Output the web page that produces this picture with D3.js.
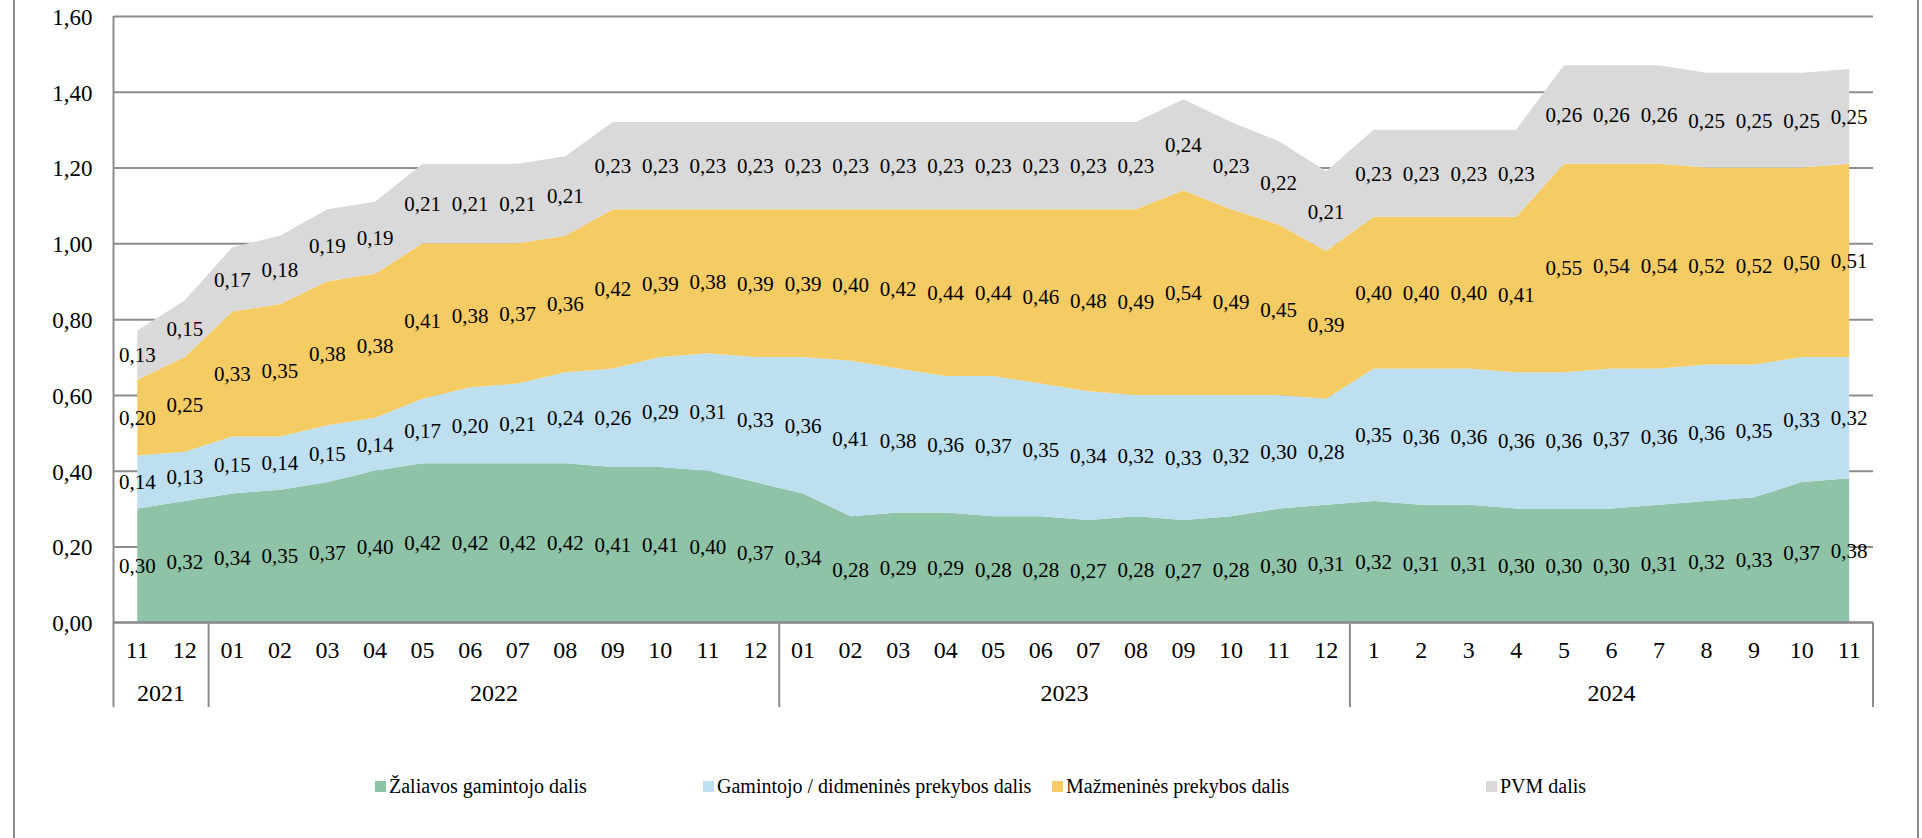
<!DOCTYPE html>
<html>
<head>
<meta charset="utf-8">
<script src="https://cdn.jsdelivr.net/npm/d3@7"></script>
<style>
  body { margin: 0; background: #fff; }
  text { font-family: "Liberation Serif", "Times New Roman", serif; fill: #000; }
</style>
</head>
<body>
<script>
// categories
const years = ["2021", "2022", "2023", "2024"];
const months2021 = ["11", "12"];
const months2022 = ["01", "02", "03", "04", "05", "06", "07", "08", "09", "10", "11", "12"];
const months2023 = ["01", "02", "03", "04", "05", "06", "07", "08", "09", "10", "11", "12"];
const months2024 = ["1", "2", "3", "4", "5", "6", "7", "8", "9", "10", "11"];

// series values (EUR)
const zaliavos = [0.30, 0.32,
    0.34, 0.35, 0.37, 0.40, 0.42, 0.42, 0.42, 0.42, 0.41, 0.41, 0.40, 0.37,
    0.34, 0.28, 0.29, 0.29, 0.28, 0.28, 0.27, 0.28, 0.27, 0.28, 0.30, 0.31,
    0.32, 0.31, 0.31, 0.30, 0.30, 0.30, 0.31, 0.32, 0.33, 0.37, 0.38];
const gamintojo = [0.14, 0.13,
    0.15, 0.14, 0.15, 0.14, 0.17, 0.20, 0.21, 0.24, 0.26, 0.29, 0.31, 0.33,
    0.36, 0.41, 0.38, 0.36, 0.37, 0.35, 0.34, 0.32, 0.33, 0.32, 0.30, 0.28,
    0.35, 0.36, 0.36, 0.36, 0.36, 0.37, 0.36, 0.36, 0.35, 0.33, 0.32];
const mazmenines = [0.20, 0.25,
    0.33, 0.35, 0.38, 0.38, 0.41, 0.38, 0.37, 0.36, 0.42, 0.39, 0.38, 0.39,
    0.39, 0.40, 0.42, 0.44, 0.44, 0.46, 0.48, 0.49, 0.54, 0.49, 0.45, 0.39,
    0.40, 0.40, 0.40, 0.41, 0.55, 0.54, 0.54, 0.52, 0.52, 0.50, 0.51];
const pvm = [0.13, 0.15,
    0.17, 0.18, 0.19, 0.19, 0.21, 0.21, 0.21, 0.21, 0.23, 0.23, 0.23, 0.23,
    0.23, 0.23, 0.23, 0.23, 0.23, 0.23, 0.23, 0.23, 0.24, 0.23, 0.22, 0.21,
    0.23, 0.23, 0.23, 0.23, 0.26, 0.26, 0.26, 0.25, 0.25, 0.25, 0.25];

const seriesNames = ["Žaliavos gamintojo dalis", "Gamintojo / didmeninės prekybos dalis",
    "Mažmeninės prekybos dalis", "PVM dalis"];
const yTicks = [0, 0.2, 0.4, 0.6, 0.8, 1.0, 1.2, 1.4, 1.6];

const colors = ["#8ec3a7", "#bddff0", "#f5cb64", "#d9d9d9"];
const legendX = [375, 703, 1052, 1486];

const W = 1922, H = 838;
const plotLeft = 113.5, plotRight = 1873, plotTop = 16, plotBottom = 622.3;

const monthsByYear = [months2021, months2022, months2023, months2024];
const cats = [];
monthsByYear.forEach((ms, yi) => ms.forEach(m => cats.push({ key: years[yi] + "-" + m, year: years[yi], month: m })));

const values = [zaliavos, gamintojo, mazmenines, pvm];
const rows = cats.map((c, i) => {
    const r = { cat: c.key };
    seriesNames.forEach((s, j) => r[s] = values[j][i]);
    return r;
});

const loc = d3.formatLocale({ decimal: ",", thousands: " ", grouping: [3], currency: ["", "€"] });
const fmt = loc.format(".2f");

const svg = d3.select("body").append("svg")
    .attr("width", W)
    .attr("height", H);

var x = d3.scaleBand()
    .domain(cats.map(c => c.key))
    .range([plotLeft, plotRight])
    .padding(0);

var y = d3.scaleLinear()
    .domain([0, 1.6])
    .range([plotBottom, plotTop]);

// outer frame
svg.append("line").attr("x1", 14).attr("x2", 14).attr("y1", 0).attr("y2", H)
    .attr("stroke", "#8c8c8c").attr("stroke-width", 2);
svg.append("line").attr("x1", 1918).attr("x2", 1918).attr("y1", 0).attr("y2", H)
    .attr("stroke", "#8c8c8c").attr("stroke-width", 2);

// y axis + gridlines
const yAxis = svg.append("g")
    .attr("transform", `translate(${plotLeft},0)`)
    .call(d3.axisLeft(y).tickValues(yTicks).tickSize(-(plotRight - plotLeft)).tickPadding(21).tickFormat(fmt));
yAxis.select(".domain").remove();
yAxis.selectAll(".tick line").attr("stroke", "#8c8c8c").attr("stroke-width", 2);
yAxis.selectAll(".tick text").attr("font-size", 23).attr("font-family", null).attr("dy", "0.36em");

// stacked areas
const stack = d3.stack().keys(seriesNames);
const layers = stack(rows);

const area = d3.area()
    .x(d => x(d.data.cat) + x.bandwidth() / 2)
    .y0(d => y(d[0]))
    .y1(d => y(d[1]));

svg.append("g").selectAll("path")
    .data(layers)
    .join("path")
    .attr("d", area)
    .attr("fill", (d, i) => colors[i]);

// axis lines drawn on top
svg.append("line").attr("x1", plotLeft).attr("x2", plotRight).attr("y1", plotBottom).attr("y2", plotBottom)
    .attr("stroke", "#8c8c8c").attr("stroke-width", 2);
svg.append("line").attr("x1", plotLeft).attr("x2", plotLeft).attr("y1", plotTop).attr("y2", 707)
    .attr("stroke", "#8c8c8c").attr("stroke-width", 2);

// data labels
const lbl = svg.append("g");
layers.forEach(layer => {
    lbl.selectAll(null)
        .data(layer)
        .join("text")
        .attr("x", d => x(d.data.cat) + x.bandwidth() / 2)
        .attr("y", d => y((d[0] + d[1]) / 2))
        .attr("dy", "0.35em")
        .attr("text-anchor", "middle")
        .attr("font-size", 21)
        .text(d => fmt(d[1] - d[0]));
});

// month labels
const xAxis = svg.append("g")
    .attr("transform", `translate(0,${plotBottom})`)
    .call(d3.axisBottom(x).tickSize(0).tickPadding(19).tickFormat(k => cats.find(c => c.key === k).month));
xAxis.select(".domain").remove();
xAxis.selectAll(".tick text").attr("font-size", 24).attr("font-family", null);

// year groups
const bounds = monthsByYear.map((ms, yi) => x(years[yi] + "-" + ms[0]));
bounds.push(plotRight);
svg.append("g").selectAll("line")
    .data(bounds.slice(1))
    .join("line")
    .attr("x1", d => d).attr("x2", d => d)
    .attr("y1", plotBottom).attr("y2", 707)
    .attr("stroke", "#8c8c8c").attr("stroke-width", 2);

svg.append("g").selectAll("text")
    .data(years)
    .join("text")
    .attr("x", (d, i) => (bounds[i] + bounds[i + 1]) / 2)
    .attr("y", 701)
    .attr("text-anchor", "middle")
    .attr("font-size", 24)
    .text(d => d);

// legend
const leg = svg.append("g").selectAll("g")
    .data(seriesNames)
    .join("g")
    .attr("transform", (d, i) => `translate(${legendX[i]},781)`);
leg.append("rect").attr("width", 11).attr("height", 11).attr("fill", (d, i) => colors[i]);
leg.append("text").attr("x", 14).attr("y", 12).attr("font-size", 20).text(d => d);
</script>
</body>
</html>
